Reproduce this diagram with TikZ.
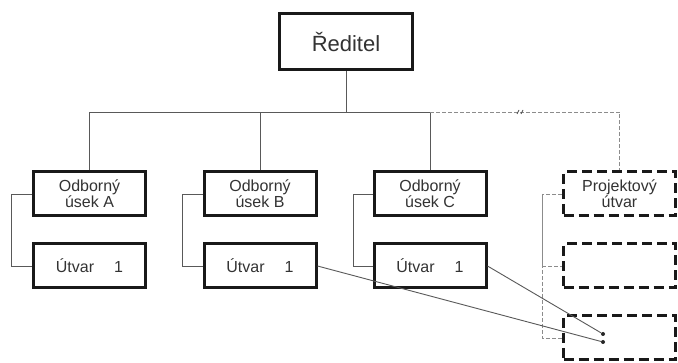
\documentclass[tikz,border=0pt]{standalone}
\usepackage{fontspec}
\setmainfont{Liberation Sans}
\begin{document}
\begin{tikzpicture}[x=1pt,y=-1pt,
  box/.style={draw=black!90, line width=3pt, minimum width=112pt, minimum height=44pt,
    inner sep=0pt, align=center, font=\fontsize{16}{18}\selectfont, text=black!80},
  dbox/.style={box, dash pattern=on 10pt off 5pt},
  link/.style={draw=black!65, line width=0.9pt},
  dlink/.style={link, draw=black!45, dash pattern=on 4pt off 2pt},
  pin/.style={circle, fill=black!85, inner sep=0pt, minimum size=4pt}]
\useasboundingbox (0,0) rectangle (678,363);
\fill[white] (0,0) rectangle (678,363);

% top of the hierarchy
\node[box, minimum width=133pt, minimum height=56pt, font=\fontsize{22}{24}\selectfont] (dir) at (346,42) {Ředitel};

% departments
\node[box] (A) at (89.5,194) {Odborný\\[-2pt]úsek A};
\node[box] (B) at (260,194) {Odborný\\[-2pt]úsek B};
\node[box] (C) at (430,194) {Odborný\\[-2pt]úsek C};
\node[dbox] (P1) at (619.5,194) {Projektový\\[-2pt]útvar};

% units
\node[box] (UA) at (89.5,266) {Útvar\hspace{20pt}1};
\node[box] (UB) at (260,266) {Útvar\hspace{20pt}1};
\node[box] (UC) at (430,266) {Útvar\hspace{20pt}1};
\node[dbox] (P2) at (619.5,266) {};
\node[dbox] (P3) at (619.5,338) {};

% branch points
\coordinate (bus) at (346,112);
\node[pin] (d1) at (603,334) {};
\node[pin] (d2) at (603,342) {};

% main tree
\draw[link] (dir.south) -- (bus);
\draw[link] (A.north) |- (C.north |- bus) -- (C.north);
\draw[link] (B.north) -- (B.north |- bus);
\draw[dlink] (C.north |- bus) -| (P1.north);
\draw[black!70, line width=0.8pt] (517,114) -- (519,110) (521,114) -- (523,110);

% department-to-unit brackets
\draw[link] (A.west) -- ++(-21,0) |- (UA.west);
\draw[link] (B.west) -- ++(-20,0) |- (UB.west);
\draw[link] (C.west) -- ++(-19,0) |- (UC.west);
\draw[dlink] (P1.west) -- ++(-20,0) |- (P3.west);
\draw[dlink] (P1.west) ++(-20,0) |- (P2.west);

% units assigned to the project
\draw[link] (UC.east) -- (d1);
\draw[link] (UB.east) -- (d2);
\end{tikzpicture}
\end{document}
